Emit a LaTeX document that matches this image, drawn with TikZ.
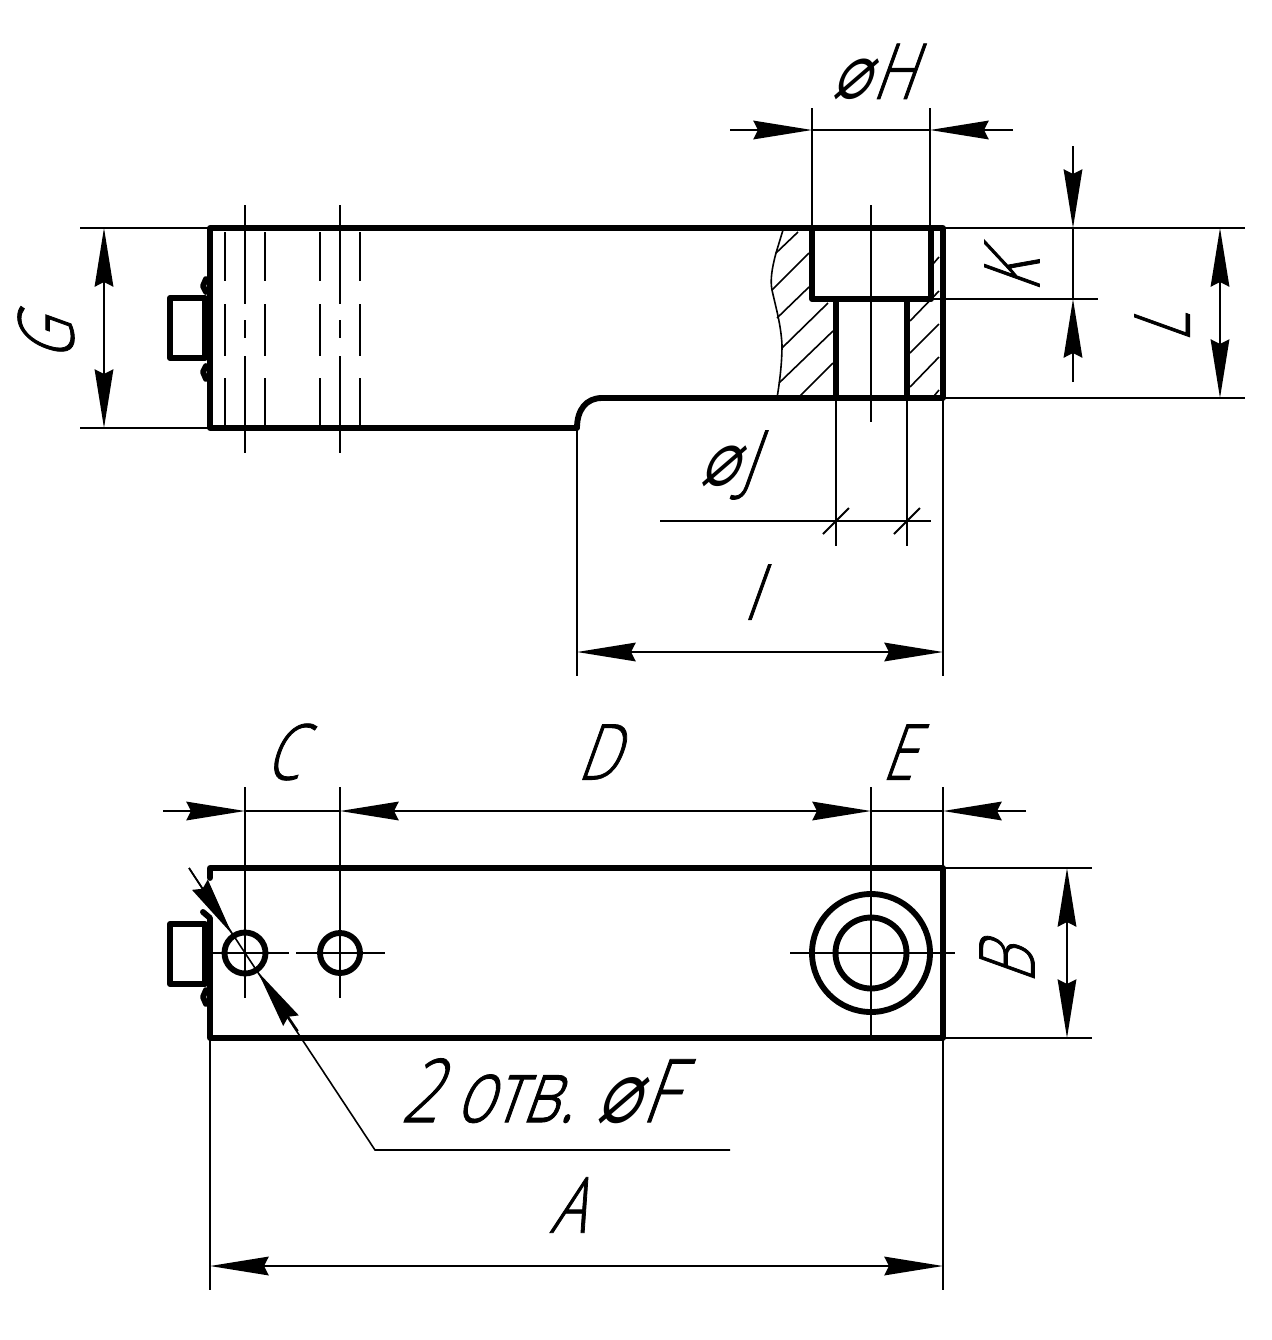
\documentclass[tikz,border=0pt]{standalone}
\usepackage{fontspec}
\newfontfamily\drawfont[FakeStretch=.74,FakeSlant=.36,FakeBold=1]{Open Sans Light}
\newfontfamily\diafont[FakeStretch=.8,FakeSlant=.36]{DejaVu Sans}
\usetikzlibrary{arrows.meta,positioning,calc}
\tikzset{
    dimtip/.tip={Stealth[length=44pt,width=14pt,inset=3.5pt]},
    outline/.style={line width=4.4pt,line join=round,line cap=round},
    thinline/.style={line width=1.5pt},
    hairline/.style={line width=1.2pt},
    dimlabel/.style={inner sep=0pt,font=\fontsize{58}{58}\selectfont\drawfont},
}
\newcommand{\dia}{{\diafont\char"2300}\kern2pt}
\begin{document}
\begin{tikzpicture}[x=.75pt,y=-.75pt]
    \useasboundingbox (0,0) rectangle (1272,1340);

    % front view with local section
    \draw[outline] (210,228) -- (943,228) -- (943,398) -- (602,398)
        .. controls (586,398) and (577,410) .. (577,428) -- (210,428) -- cycle;
    \draw[outline] (205,298) -- (170,298) -- (170,358) -- (205,358) -- cycle;
    \draw[outline] (206,279) -- (203,286) -- (206,292);
    \draw[outline] (206,366) -- (203,372) -- (206,379);
    \draw[outline] (812,228) -- (812,299) -- (931,299) -- (931,228);
    \draw[outline] (836,299) -- (836,398);
    \draw[outline] (907,299) -- (907,398);

    % hidden holes
    \foreach \x in {225,265,320,360}
        \draw[thinline] (\x,232) -- (\x,281) (\x,304) -- (\x,356) (\x,378) -- (\x,428);
    \foreach \x in {245,340}
        \draw[thinline] (\x,205) -- (\x,304) (\x,320) -- (\x,338) (\x,356) -- (\x,453);

    % break line and hatching
    \draw[hairline] (783,230) -- (776,253) .. controls (772,268) and (770,280) .. (772,290)
        .. controls (776,308) and (781,325) .. (782,345) .. controls (782,362) and (780,380) .. (777,398);
    \foreach \xa/\ya/\xb/\yb in {776/253/798/232,772/290/809/253,777/318/809/287,782/348/828/303,
        779/383/833/331,800/396/833/363,933/264/939/257,910/321/939/291,910/353/939/324,
        910/387/939/357,934/396/939/390}
        \draw[hairline] (\xa,\ya) -- (\xb,\yb);

    % extension lines, top picture
    \draw[thinline] (80,228) -- (210,228);
    \draw[thinline] (80,428) -- (210,428);
    \draw[thinline] (943,228) -- (1245,228);
    \draw[thinline] (943,398) -- (1245,398);
    \draw[thinline] (931,299) -- (1098,299);
    \draw[thinline] (812,108) -- (812,228);
    \draw[thinline] (930,108) -- (930,228);
    \draw[thinline] (871,205) -- (871,422);
    \draw[thinline] (577,428) -- (577,676);
    \draw[thinline] (943,398) -- (943,676);
    \draw[thinline] (836,398) -- (836,546);
    \draw[thinline] (907,398) -- (907,546);

    % dimensions, top picture
    \coordinate (Ha) at (812,130);
    \coordinate (Hb) at (930,130);
    \draw[thinline] (Ha) -- (Hb);
    \draw[thinline,-dimtip] (730,130) -- (Ha);
    \draw[thinline,-dimtip] (1013,130) -- (Hb);
    \draw[thinline,dimtip-dimtip] (104,228) -- (104,428);
    \draw[thinline,dimtip-dimtip] (1220,228) -- (1220,398);
    \draw[thinline,dimtip-dimtip] (577,652) -- (943,652);
    \draw[thinline,-dimtip] (1073,146) -- (1073,228);
    \draw[thinline,-dimtip] (1073,382) -- (1073,299);
    \draw[thinline] (1073,228) -- (1073,299);
    \draw[thinline] (660,521) -- (931,521);
    \draw[thinline] (823,534) -- (849,508);
    \draw[thinline] (894,534) -- (920,508);

    % plan view
    \draw[outline] (210,878) -- (210,868) -- (943,868) -- (943,1038) -- (210,1038) -- (210,918) -- (203,912);
    \draw[outline] (205,924) -- (170,924) -- (170,984) -- (205,984) -- cycle;
    \draw[outline] (206,990) -- (203,997) -- (206,1004);
    \draw[outline] (245,953) circle (20.5);
    \draw[outline] (340,953) circle (20);
    \draw[outline] (871,953) circle (59);
    \draw[outline] (871,953) circle (35.5);

    % axes, plan view
    \draw[thinline] (212,953) -- (289,953);
    \draw[thinline] (296,953) -- (385,953);
    \draw[thinline] (790,953) -- (955,953);
    \draw[thinline] (245,787) -- (245,998);
    \draw[thinline] (340,787) -- (340,998);
    \draw[thinline] (871,787) -- (871,1038);
    \draw[thinline] (943,787) -- (943,868);
    \draw[thinline] (943,1038) -- (943,1290);
    \draw[thinline] (210,1038) -- (210,1290);
    \draw[thinline] (943,868) -- (1092,868);
    \draw[thinline] (943,1038) -- (1092,1038);

    % dimensions, plan view
    \draw[thinline,-dimtip] (163,811) -- (245,811);
    \draw[thinline,dimtip-dimtip] (340,811) -- (871,811);
    \draw[thinline] (245,811) -- (340,811);
    \draw[thinline] (871,811) -- (943,811);
    \draw[thinline,-dimtip] (1026,811) -- (943,811);
    \draw[thinline,dimtip-dimtip] (1067,868) -- (1067,1038);
    \draw[thinline,dimtip-dimtip] (210,1266) -- (943,1266);

    % leader of the holes
    \coordinate (LeadA) at (189,868);
    \coordinate (LeadB) at (375,1150);
    \coordinate (LeadC) at (730,1150);
    \draw[hairline] (LeadA) -- (LeadB) -- (LeadC);
    \draw[hairline,-dimtip] (189,868) -- (232,934);
    \draw[hairline,-dimtip] (298,1031) -- (258,972);

    % labels
    \node[dimlabel] (labelH) at (872,72) {\dia H};
    \node[dimlabel] (labelJ) at (727,465) {\dia J};
    \node[dimlabel] (labelI) at (750,592) {I};
    \node[dimlabel,rotate=90] (labelG) at (46,341) {G};
    \node[dimlabel,rotate=90] (labelK) at (1012,276) {K};
    \node[dimlabel,rotate=90] (labelL) at (1162,328) {L};
    \node[dimlabel,rotate=90] (labelB) at (1007,966) {B};
    \node[dimlabel] (labelC) at (282,752) {C};
    \node[dimlabel] (labelD) at (597,752) {D};
    \node[dimlabel] (labelE) at (897,752) {E};
    \node[dimlabel,font=\fontsize{66}{66}\selectfont\drawfont] (labelF) at (537,1091) {2 отв. \dia F};
    \node[dimlabel] (labelA) at (567,1205) {A};
\end{tikzpicture}
\end{document}
